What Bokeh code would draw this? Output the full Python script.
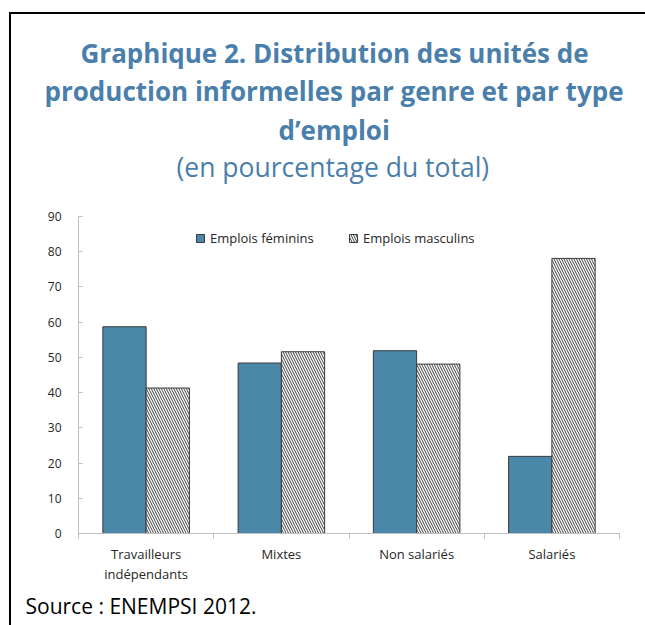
from bokeh.plotting import figure
from bokeh.models import (Range1d, LinearAxis, FixedTicker, Title,
                          GlobalInlineStyleSheet, Legend, LegendItem, ColumnDataSource)
from bokeh.embed import file_html
from bokeh.resources import INLINE

# ---- data ----
categories = ["Travailleurs\nindépendants", "Mixtes", "Non salariés", "Salariés"]
feminins = [58.7, 48.4, 51.9, 21.9]
masculins = [41.3, 51.6, 48.1, 78.1]
series_names = ["Emplois féminins", "Emplois masculins"]
y_ticks = [0, 10, 20, 30, 40, 50, 60, 70, 80, 90]
title_lines = ["Graphique 2. Distribution des unités de",
               "production informelles par genre et par type",
               "d\u2019emploi"]
subtitle = "(en pourcentage du total)"
source_note = "Source : ENEMPSI 2012."

FONT = "Open Sans"
TITLE_COLOR = "#4a7fab"
BLUE = "#4a87a8"
EDGE = "#3a3a3a"
AXIS_GRAY = "#bfbfbf"
TEXT = "#262626"

n = len(categories)
centers = [i + 0.5 for i in range(n)]
boundaries = list(range(n + 1))
BAR_W = 0.32

p = figure(width=645, height=625,
           x_range=Range1d(0, n), y_range=Range1d(0, 90),
           x_axis_location=None,
           output_backend="svg", toolbar_location=None,
           min_border_left=78, min_border_right=26,
           min_border_top=216, min_border_bottom=92)
p.outline_line_color = None
p.xgrid.grid_line_color = None
p.ygrid.grid_line_color = None
p.background_fill_color = "white"
p.border_fill_color = "white"
p.title.visible = False

# y axis
yax = p.yaxis[0]
yax.ticker = FixedTicker(ticks=y_ticks)
yax.axis_line_color = AXIS_GRAY
yax.major_tick_line_color = AXIS_GRAY
yax.major_tick_in = 4
yax.major_tick_out = 0
yax.minor_tick_line_color = None
yax.major_label_standoff = 17
yax.major_label_text_font = FONT
yax.major_label_text_font_size = "12px"
yax.major_label_text_color = TEXT

# x axis: boundary ticks + category labels
tick_axis = LinearAxis(ticker=FixedTicker(ticks=boundaries),
                       major_label_overrides={b: "" for b in boundaries},
                       axis_line_color=AXIS_GRAY, major_tick_line_color=AXIS_GRAY,
                       major_tick_in=0, major_tick_out=5, minor_tick_line_color=None,
                       major_label_standoff=0, major_label_text_font_size="1px")
p.add_layout(tick_axis, "below")
cat_axis = LinearAxis(ticker=FixedTicker(ticks=centers),
                      major_label_overrides=dict(zip(centers, categories)),
                      axis_line_color=None, major_tick_line_color=None,
                      minor_tick_line_color=None, major_label_standoff=0,
                      major_label_text_font=FONT, major_label_text_font_size="13px",
                      major_label_text_line_height=1.13,
                      major_label_text_color=TEXT)
p.add_layout(cat_axis, "below")

source = ColumnDataSource(dict(
    xf=[c - BAR_W / 2 for c in centers],
    xm=[c + BAR_W / 2 for c in centers],
    fem=feminins, masc=masculins))
r1 = p.vbar(x="xf", top="fem", width=BAR_W, source=source,
            fill_color=BLUE, line_color=EDGE, line_width=1)
r2 = p.vbar(x="xm", top="masc", width=BAR_W, source=source,
            fill_color="white", hatch_pattern="\\", hatch_scale=5, hatch_weight=1,
            hatch_color="#404040", line_color=EDGE, line_width=1)

for r, name, x in [(r1, series_names[0], 117), (r2, series_names[1], 270)]:
    leg = Legend(items=[LegendItem(label=name, renderers=[r])], location=(x, 286),
                 orientation="horizontal", padding=0, margin=0, border_line_color=None,
                 background_fill_alpha=0, glyph_width=10, glyph_height=10, label_standoff=5,
                 label_text_font=FONT, label_text_font_size="13px", label_text_color=TEXT)
    p.add_layout(leg)

# invisible spacer between the plot area and the subtitle
spacer = LinearAxis(ticker=FixedTicker(ticks=[0]), major_label_overrides={0: ""},
                    axis_line_color=None, major_tick_line_color=None,
                    minor_tick_line_color=None, major_tick_in=0, major_tick_out=30,
                    major_label_standoff=0, major_label_text_font_size="1px")
p.add_layout(spacer, "above")

# titles (stacked from the frame outward)
p.add_layout(Title(text=subtitle, align="left", offset=98, standoff=0,
                   vertical_align="top", text_font=FONT, text_font_size="26.5px",
                   text_font_style="normal", text_color=TITLE_COLOR), "above")
for txt, off, so in zip(title_lines[::-1], [200, -34, 2], [2, 0, 0]):
    p.add_layout(Title(text=txt, align="left", offset=off, standoff=so, text_font=FONT,
                       text_font_size="26px", text_font_style="bold",
                       text_color=TITLE_COLOR), "above")
p.add_layout(Title(text=source_note, align="left", offset=-53, standoff=9,
                   text_font=FONT, text_font_size="21px", text_font_style="normal",
                   text_color="black"), "below")

# frame of the figure (top and left rules)
p.stylesheets = [GlobalInlineStyleSheet(css=(
    "html, body { overflow: hidden; }"
    "body::before { content: ''; position: fixed; left: 9px; top: 12px; "
    "width: 636px; height: 2px; background: black; pointer-events: none; z-index: 1000; }"
    "body::after { content: ''; position: fixed; left: 9px; top: 12px; "
    "width: 2px; height: 613px; background: black; pointer-events: none; z-index: 1000; }"))]

open("out.html", "w").write(file_html(p, INLINE))
